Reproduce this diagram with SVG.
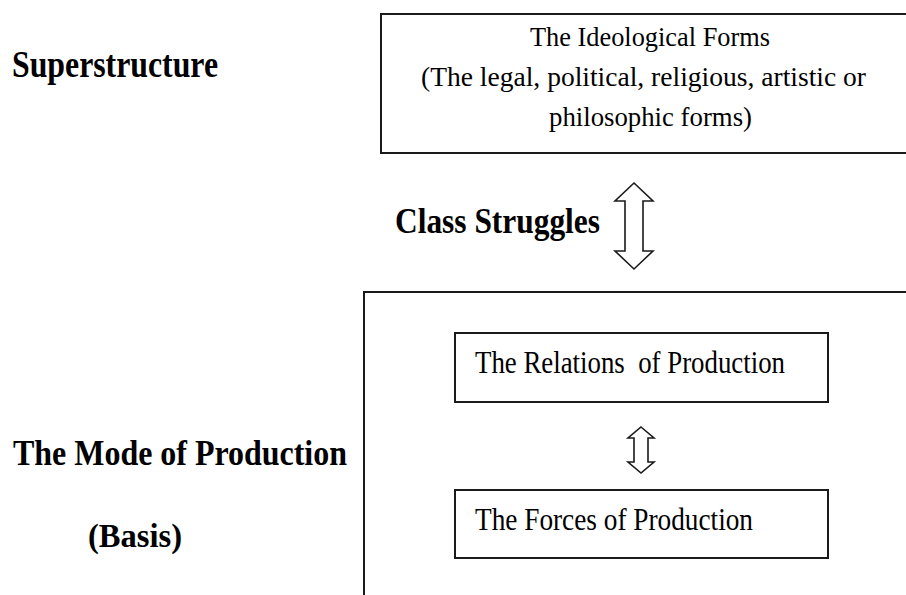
<svg xmlns="http://www.w3.org/2000/svg" width="906" height="595" viewBox="0 0 906 595">
<style>
.box{fill:none;stroke:#1a1a1a;stroke-width:2}
.arr{fill:#fff;stroke:#1a1a1a;stroke-width:1.6;stroke-linejoin:miter}
.t{font-family:"Liberation Serif","Times New Roman",serif;fill:#000}
.b{font-family:"Liberation Serif","Times New Roman",serif;font-weight:bold;fill:#000}
</style>
<rect width="906" height="595" fill="#fff"/>
<g id="label-superstructure"><text class="b" x="12" y="77" font-size="38" textLength="206" lengthAdjust="spacingAndGlyphs">Superstructure</text></g>
<g id="ideological-forms">
<rect class="box" x="381" y="14" width="540" height="139"/>
<text class="t" x="530" y="46" font-size="27" textLength="240" lengthAdjust="spacingAndGlyphs">The Ideological Forms</text>
<text class="t" x="421" y="86" font-size="27" textLength="445" lengthAdjust="spacingAndGlyphs">(The legal, political, religious, artistic or</text>
<text class="t" x="549" y="126" font-size="27" textLength="203" lengthAdjust="spacingAndGlyphs">philosophic forms)</text>
</g>
<g id="label-class-struggles"><text class="b" x="395" y="233" font-size="36" textLength="205" lengthAdjust="spacingAndGlyphs">Class Struggles</text></g>
<g id="mode-of-production">
<rect class="box" x="364" y="292" width="600" height="400"/>
</g>
<g id="label-mode"><text class="b" x="13" y="465" font-size="36" textLength="334" lengthAdjust="spacingAndGlyphs">The Mode of Production</text>
<text class="b" x="88" y="547" font-size="33" textLength="94" lengthAdjust="spacingAndGlyphs">(Basis)</text></g>
<g id="relations">
<rect class="box" x="455" y="333" width="373" height="69"/>
<text class="t" x="475" y="373" font-size="32" textLength="310" lengthAdjust="spacingAndGlyphs" xml:space="preserve">The Relations  of Production</text>
</g>
<g id="forces">
<rect class="box" x="455" y="490" width="373" height="68"/>
<text class="t" x="475" y="530" font-size="32" textLength="278" lengthAdjust="spacingAndGlyphs">The Forces of Production</text>
</g>
<g id="connectors">
<polygon class="arr" points="634,183 653,201 643,201 643,251 653,251 634,269 615,251 625,251 625,201 615,201"/>
<polygon class="arr" points="641,427 654,438 648,438 648,462 654,462 641,473 628,462 634,462 634,438 628,438"/>
</g>
</svg>
